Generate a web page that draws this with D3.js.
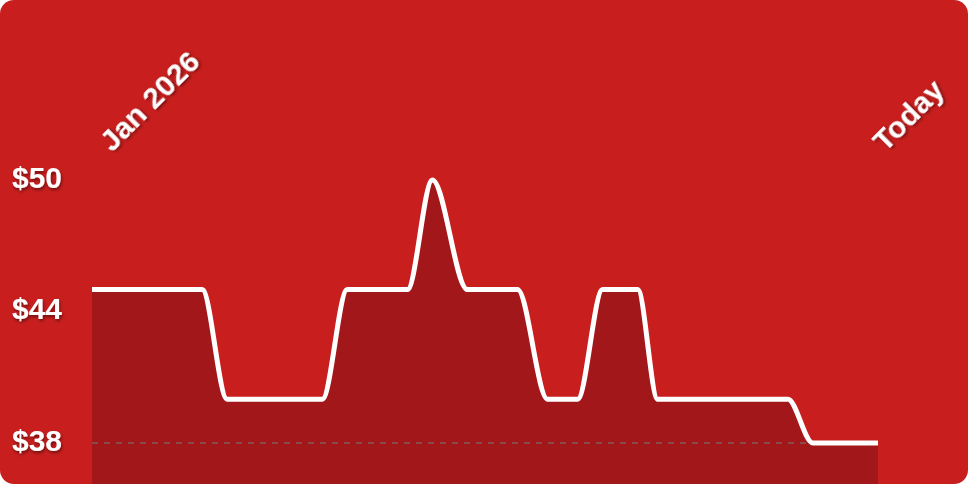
<!DOCTYPE html>
<html>
<head>
<meta charset="utf-8">
<script src="https://cdn.jsdelivr.net/npm/d3@7"></script>
<style>
  body { margin: 0; background: #fff; }
  svg { display: block; font-family: "Liberation Sans", Arial, sans-serif; }
</style>
</head>
<body>
<div id="chart"></div>
<script>
const width = 968;
const height = 484;

// price history (change points only)
const dates = ["2026-01-01", "2026-01-23", "2026-01-28", "2026-02-16", "2026-02-21",
  "2026-03-05", "2026-03-10", "2026-03-17", "2026-03-27", "2026-04-02",
  "2026-04-08", "2026-04-13", "2026-04-20", "2026-04-24", "2026-05-20",
  "2026-05-25", "2026-06-07"];
const prices = [45, 45, 40, 40, 45, 45, 50, 45, 45, 40, 40, 45, 45, 40, 40, 38, 38];
const yTicks = [38, 44, 50];
const startLabel = "Jan 2026";
const endLabel = "Today";

const parse = d3.utcParse("%Y-%m-%d");
const data = dates.map((d, i) => ({ date: parse(d), price: prices[i] }));

const svg = d3.select("#chart")
  .append("svg")
  .attr("width", width)
  .attr("height", height);

// text shadow
const defs = svg.append("defs");
defs.append("filter")
  .attr("id", "shadow")
  .attr("x", "-20%").attr("y", "-20%")
  .attr("width", "140%").attr("height", "140%")
  .append("feDropShadow")
  .attr("dx", 1).attr("dy", 2)
  .attr("stdDeviation", 1.6)
  .attr("flood-color", "#000")
  .attr("flood-opacity", 0.45);

// card background
svg.append("rect")
  .attr("width", width)
  .attr("height", height)
  .attr("rx", 14)
  .attr("fill", "#c81e1e");

const x = d3.scaleUtc()
  .domain(d3.extent(data, d => d.date))
  .range([92, 878]);

const y = d3.scaleLinear()
  .domain([38, 50])
  .range([443, 180]);

// filled area under the line
const area = d3.area()
  .x(d => x(d.date))
  .y0(height)
  .y1(d => y(d.price))
  .curve(d3.curveMonotoneX);

svg.append("path")
  .datum(data)
  .attr("d", area)
  .attr("fill", "#a2171a");

// dashed baseline at the lowest tick
svg.append("line")
  .attr("x1", x.range()[0])
  .attr("x2", x.range()[1])
  .attr("y1", y(yTicks[0]))
  .attr("y2", y(yTicks[0]))
  .attr("stroke", "#8a4a4a")
  .attr("stroke-width", 2)
  .attr("stroke-dasharray", "6,6");

const line = d3.line()
  .x(d => x(d.date))
  .y(d => y(d.price))
  .curve(d3.curveMonotoneX);

svg.append("path")
  .datum(data)
  .attr("d", line)
  .attr("fill", "none")
  .attr("stroke", "#fff")
  .attr("stroke-width", 5)
  .attr("stroke-linejoin", "round");

// y labels
svg.append("g")
  .selectAll("text")
  .data(yTicks)
  .join("text")
  .attr("x", 12)
  .attr("y", d => y(d))
  .attr("dy", "0.26em")
  .attr("fill", "#fff")
  .attr("font-size", 30)
  .attr("font-weight", "bold")
  .attr("filter", "url(#shadow)")
  .text(d => "$" + d);

// rotated date labels
const dateLabels = [
  { text: startLabel, x: x.range()[0] + 20 },
  { text: endLabel, x: x.range()[1] + 7 }
];
svg.append("g")
  .selectAll("text")
  .data(dateLabels)
  .join("text")
  .attr("transform", d => `translate(${d.x},153) rotate(-45)`)
  .attr("fill", "#fff")
  .attr("font-size", 30)
  .attr("font-weight", "bold")
  .attr("filter", "url(#shadow)")
  .text(d => d.text);
</script>
</body>
</html>
